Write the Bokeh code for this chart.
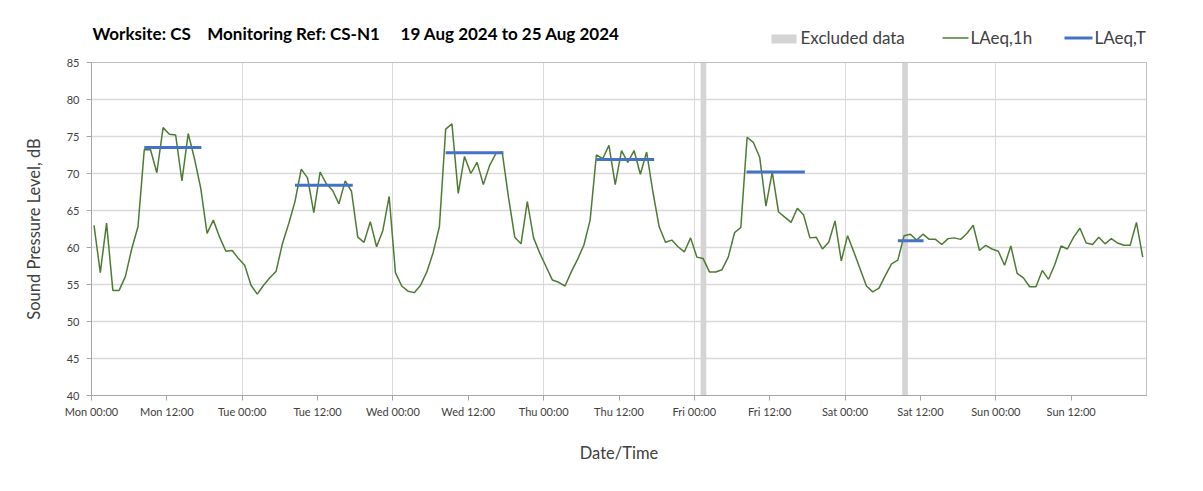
from bokeh.plotting import figure
from bokeh.models import FixedTicker
from bokeh.layouts import column
from bokeh.core.properties import value
from bokeh.embed import file_html
from bokeh.resources import INLINE

# ---------------- data ----------------
# hourly LAeq,1h values, Mon 00:00 .. Sun 23:00 (19-25 Aug 2024)
laeq_1h = [
    63.0, 56.6, 63.3, 54.2, 54.2, 56.1, 59.8, 62.8, 73.2, 73.2,
    70.1, 76.2, 75.3, 75.2, 69.0, 75.4, 72.0, 68.0, 61.9, 63.7,
    61.4, 59.5, 59.6, 58.5, 57.6, 54.9, 53.7, 54.9, 55.9, 56.8,
    60.5, 63.2, 66.2, 70.6, 69.4, 64.7, 70.2, 68.6, 67.7, 65.9,
    69.0, 67.6, 61.4, 60.7, 63.5, 60.1, 62.3, 66.9, 56.6,
    54.8, 54.1, 53.9, 54.9, 56.7, 59.3, 62.8, 76.0, 76.7, 67.3,
    72.3, 70.0, 71.5, 68.5, 71.1, 72.7, 72.9, 66.8, 61.4, 60.5,
    66.2, 61.3, 59.2, 57.4, 55.6, 55.3, 54.8, 56.7, 58.4, 60.3,
    63.7, 72.5, 72.0, 73.8, 68.5, 73.1, 71.5, 73.1, 69.9, 72.9,
    67.5, 62.8, 60.7, 61.0, 60.1, 59.4, 61.3, 58.7,
    58.5, 56.7, 56.7, 57.0, 58.7, 62.0, 62.7, 74.9, 74.2, 72.2,
    65.6, 70.2, 64.8, 64.1, 63.4, 65.3, 64.4, 61.3, 61.4, 59.8,
    60.7, 63.6, 58.2, 61.6, 59.4, 57.1, 54.8, 54.0, 54.5, 56.2,
    57.8, 58.3,
    61.6, 61.8, 61.0, 61.8, 61.1, 61.1, 60.4, 61.2, 61.3, 61.1,
    61.9, 63.0, 59.6, 60.3, 59.8, 59.5, 57.6, 60.2, 56.5, 55.9,
    54.7, 54.7, 56.9, 55.7, 57.7, 60.2, 59.8, 61.4, 62.6, 60.6,
    60.4, 61.4, 60.5, 61.2, 60.6, 60.3, 60.3, 63.4, 58.7,
]
# time stamps in hours after Mon 00:00
hours = [i + 0.4 for i in range(len(laeq_1h))]

# LAeq,T daytime periods (hours after Mon 00:00)
period_start = [8.4, 32.4, 56.4, 80.4, 104.3, 128.4]
period_end = [17.5, 41.6, 65.6, 89.6, 113.6, 132.5]
laeq_t = [73.5, 68.4, 72.8, 71.9, 70.2, 60.9]

# excluded data (hours after Mon 00:00)
excl_start = [97.0, 129.1]
excl_end = [97.9, 130.0]

tick_hours = [0, 12, 24, 36, 48, 60, 72, 84, 96, 108, 120, 132, 144, 156]
tick_labels = ["Mon 00:00", "Mon 12:00", "Tue 00:00", "Tue 12:00", "Wed 00:00",
               "Wed 12:00", "Thu 00:00", "Thu 12:00", "Fri 00:00", "Fri 12:00",
               "Sat 00:00", "Sat 12:00", "Sun 00:00", "Sun 12:00"]
day_grid = [24, 48, 72, 96, 120, 144]
y_ticks = [40, 45, 50, 55, 60, 65, 70, 75, 80, 85]

NB = "\u00a0"
title_text = ("Worksite: CS" + NB * 4 + "Monitoring Ref: CS-N1" + NB * 5
              + "19 Aug 2024 to 25 Aug 2024")
legend_labels = ["Excluded data", "LAeq,1h", "LAeq,T"]

FONT = "Lato"
W = 1187
TOP_H = 52
MAIN_H = 423
FRAME_L, FRAME_R = 91, 1146
GREEN = "#4e7b34"
BLUE = "#4472C4"
BAND = "#d4d4d4"
TXT = "#404040"

# ---------------- header (title + legend) ----------------
hdr = figure(width=W, height=TOP_H, x_range=(FRAME_L, FRAME_R), y_range=(TOP_H, 0),
             output_backend="svg", toolbar_location=None,
             min_border=0, min_border_left=0, min_border_right=0,
             min_border_top=0, min_border_bottom=0)
hdr.axis.visible = False
hdr.grid.visible = False
hdr.outline_line_color = None
hdr.background_fill_color = "white"
hdr.border_fill_color = "white"

hdr.text(x=[92], y=[33], text=[title_text], text_font=value(FONT),
         text_font_style="bold", text_font_size="17px", text_color="#000000",
         text_baseline="middle", text_align="left")
# legend keys
hdr.quad(left=[771], right=[796], top=[34], bottom=[43], fill_color=BAND,
         line_color=None)
hdr.segment(x0=[942], x1=[968], y0=[37.5], y1=[37.5], line_color=GREEN, line_width=1.5)
hdr.segment(x0=[1064], x1=[1092], y0=[37.5], y1=[37.5], line_color=BLUE, line_width=3)
hdr.text(x=[800, 970, 1094], y=[37, 37, 37], text=legend_labels,
         text_font=value(FONT), text_font_size="17px", text_color=TXT,
         text_baseline="middle", text_align="left")

# ---------------- main chart ----------------
p = figure(width=W, height=MAIN_H, x_range=(0, 168), y_range=(40, 85),
           output_backend="svg", toolbar_location=None,
           min_border_left=FRAME_L, min_border_right=W - FRAME_R,
           min_border_top=10, min_border_bottom=80)
p.background_fill_color = "white"
p.border_fill_color = "white"
p.outline_line_color = "#bfbfbf"
p.outline_line_width = 1

p.quad(left=excl_start, right=excl_end, bottom=[40] * len(excl_start),
       top=[85] * len(excl_start), fill_color=BAND, line_color=None)
p.line(hours, laeq_1h, line_color=GREEN, line_width=1.5)
p.segment(x0=period_start, x1=period_end, y0=laeq_t, y1=laeq_t,
          line_color=BLUE, line_width=3)

p.xaxis.ticker = FixedTicker(ticks=tick_hours)
p.xaxis.major_label_overrides = {t: l for t, l in zip(tick_hours, tick_labels)}
p.yaxis.ticker = FixedTicker(ticks=y_ticks)
for ax in (p.xaxis, p.yaxis):
    ax.minor_tick_line_color = None
    ax.major_tick_in = 0
    ax.major_tick_out = 5
    ax.axis_line_color = "#a6a6a6"
    ax.major_tick_line_color = "#a6a6a6"
    ax.major_label_text_font = FONT
    ax.major_label_text_font_size = "11px"
    ax.major_label_text_color = TXT
    ax.axis_label_text_font = FONT
    ax.axis_label_text_font_style = "normal"
    ax.axis_label_text_font_size = "16.5px"
    ax.axis_label_text_color = TXT
p.yaxis.major_label_standoff = 7
p.xaxis.major_label_standoff = 4
p.xaxis.axis_label = "Date/Time"
p.xaxis.axis_label_standoff = 22
p.yaxis.axis_label = "Sound Pressure Level, dB"
p.yaxis.axis_label_standoff = 20

p.xgrid.ticker = FixedTicker(ticks=day_grid)
p.xgrid.grid_line_color = "#d9d9d9"
p.ygrid.ticker = FixedTicker(ticks=y_ticks)
p.ygrid.grid_line_color = "#d9d9d9"
p.ygrid.grid_line_width = 1.5

layout = column(hdr, p, spacing=0)
open("out.html", "w").write(file_html(layout, INLINE))
